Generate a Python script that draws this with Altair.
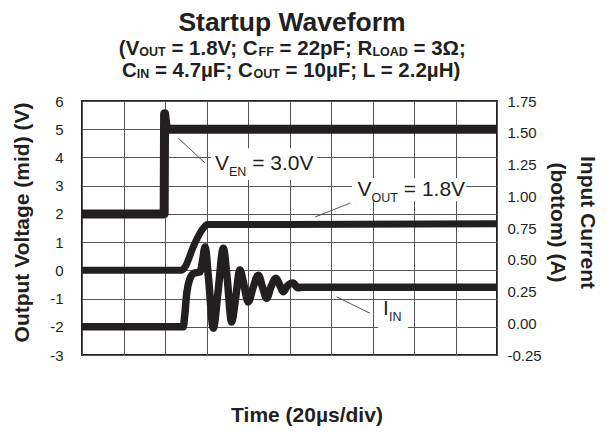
import altair as alt
import pandas as pd

# ---------------- data ----------------
# V_EN trace (offset on left axis, volts)
ven_t = [0, 39.6, 39.8, 40.6, 41.5, 200]
ven_v = [2.0, 2.0, 5.55, 5.05, 5.0, 5.0]

# V_OUT trace (mid)
vout_t = [0, 48.0, 49.5, 54.0, 58.0, 60.5, 70.0, 200]
vout_v = [0.0, 0.0, 0.1, 0.9, 1.45, 1.62, 1.62, 1.65]

# I_IN trace (bottom, drawn on left-axis units)
iin_t = [0, 48.8, 49.5, 50.5, 52.0, 54.0, 57.0, 58.0, 59.3, 61.0, 63.3, 65.5,
         68.1, 70.0, 72.1, 74.0, 76.1, 78.0, 80.1, 82.5, 85.0, 87.0, 89.0,
         91.0, 93.5, 95.2, 96.9, 99.0, 101.7, 104.0, 106.0, 200]
iin_v = [-2.0, -2.0, -1.6, -0.8, -0.3, -0.1, -0.05, 0.3, 0.83, -0.3, -2.05, -0.8,
         0.78, -0.3, -1.83, -1.0, 0.01, -0.5, -1.12, -0.6, -0.17, -0.6, -0.99,
         -0.6, -0.28, -0.5, -0.76, -0.55, -0.45, -0.62, -0.6, -0.6]

left_ticks = [-3, -2, -1, 0, 1, 2, 3, 4, 5, 6]
right_ticks = [-0.25, 0.0, 0.25, 0.5, 0.75, 1.0, 1.25, 1.5, 1.75]
time_grid = [0, 20, 40, 60, 80, 100, 120, 140, 160, 180, 200]

title_text = "Startup Waveform"
sub_line1 = [("(V", 0), ("OUT", 1), (" = 1.8V; C", 0), ("FF", 1), (" = 22pF; R", 0),
             ("LOAD", 1), (" = 3Ω;", 0)]
sub_line2 = [("C", 0), ("IN", 1), (" = 4.7µF; C", 0), ("OUT", 1),
             (" = 10µF; L = 2.2µH)", 0)]

# annotations: label anchor (t, v), leader line (t1, v1, t2, v2), white box (t1, t2, v1, v2)
ven_label = [("V", 0), ("EN", 1), (" = 3.0V", 0)]
ven_anchor = (64.1, 3.555)
ven_leader = (46.3, 4.69, 59.3, 3.80)
ven_box = (62.2, 113.3, 4.33, 3.20)

vout_label = [("V", 0), ("OUT", 1), (" = 1.8V", 0)]
vout_anchor = (132.8, 2.634)
vout_leader = (129.2, 2.38, 112.3, 1.89)
vout_box = (130.1, 185.1, 3.27, 2.45)

iin_label = [("I", 0), ("IN", 1)]
iin_anchor = (145.1, -1.583)
iin_leader = (138.8, -1.52, 122.7, -0.94)
iin_box = (142.7, 157.1, -1.06, -2.16)

# ---------------- styling helpers ----------------
FONT = "Liberation Sans"
INK = "#231f20"
W, H = 415, 254

BOLD_W = {'(': 333, ')': 333, 'V': 667, 'O': 778, 'U': 722, 'T': 611, ' ': 278,
          '=': 584, '1': 556, '.': 278, '8': 556, ';': 333, 'C': 722, 'F': 611,
          '2': 556, 'p': 611, 'R': 722, 'L': 611, 'A': 722, 'D': 722, '3': 556,
          'Ω': 768, 'I': 278, 'N': 722, '4': 556, '7': 556, 'µ': 611, 'H': 722,
          '0': 556}
REG_W = {'V': 667, 'E': 667, 'N': 722, ' ': 278, '=': 584, '3': 556, '.': 278,
         '0': 556, 'O': 778, 'U': 722, 'T': 611, '1': 556, '8': 556, 'I': 278}


def text_width(s, table, size):
    return sum(table.get(c, 556) for c in s) / 1000.0 * size


def layout(segs, main, sub, table):
    out, x = [], 0.0
    for txt, is_sub in segs:
        size = sub if is_sub else main
        lead = len(txt) - len(txt.lstrip(' '))
        x0 = x + lead * table[' '] / 1000.0 * size
        out.append((txt.strip(), is_sub, x0, size))
        x += text_width(txt, table, size)
    return out, x


one = pd.DataFrame({"a": [0]})
xs = alt.Scale(domain=[0, 200], nice=False, zero=False)
ys = alt.Scale(domain=[-3, 6], nice=False, zero=False)

x_axis = alt.Axis(values=time_grid, labels=False, ticks=False, domain=False, grid=True,
                  gridColor="#555555", gridWidth=1,
                  title="Time (20µs/div)", titleFont=FONT, titleFontSize=21,
                  titleFontWeight="bold", titleColor=INK, titleX=224.5, titleY=66,
                  titleAlign="center", titleBaseline="alphabetic")
y_axis = alt.Axis(values=left_ticks, grid=True, gridColor="#555555", gridWidth=1,
                  ticks=False, domain=False, labelPadding=19, labelFont=FONT,
                  labelFontSize=15, labelColor=INK, labelFlush=False, labelOverlap=False,
                  labelExpr="datum.value < 0 ? '-' + format(-datum.value, 'd') : format(datum.value, 'd')",
                  title="Output Voltage (mid) (V)", titleFont=FONT, titleFontSize=21,
                  titleFontWeight="bold", titleColor=INK, titleAngle=270,
                  titleX=-53.5, titleY=121, titleAlign="center", titleBaseline="alphabetic")

layers = []

# white label boxes
for (t1, t2, v1, v2) in [ven_box, vout_box, iin_box]:
    layers.append(
        alt.Chart(one).mark_rect(color="white", opacity=1).encode(
            x=alt.datum(t1, scale=xs, axis=x_axis), x2=alt.datum(t2),
            y=alt.datum(v1, scale=ys, axis=y_axis), y2=alt.datum(v2),
        )
    )

# leader lines
for (t1, v1, t2, v2) in [ven_leader, vout_leader, iin_leader]:
    layers.append(
        alt.Chart(one).mark_rule(color="#444444", strokeWidth=0.9).encode(
            x=alt.datum(t1, scale=xs, axis=x_axis), x2=alt.datum(t2),
            y=alt.datum(v1, scale=ys, axis=y_axis), y2=alt.datum(v2),
        )
    )

# traces
def trace(ts, vs, interp, sw):
    df = pd.DataFrame({"t": ts, "v": vs})
    return alt.Chart(df).mark_line(color=INK, strokeWidth=sw, interpolate=interp,
                                   strokeJoin="round", strokeCap="butt").encode(
        x=alt.X("t:Q", scale=xs, axis=x_axis),
        y=alt.Y("v:Q", scale=ys, axis=y_axis),
    )

layers.append(trace(ven_t, ven_v, "linear", 9))
layers.append(trace(vout_t, vout_v, "monotone", 7))
layers.append(trace(iin_t, iin_v, "monotone", 7.5))

# annotation labels with subscripts
for segs, (ta, va) in [(ven_label, ven_anchor), (vout_label, vout_anchor), (iin_label, iin_anchor)]:
    parts, _ = layout(segs, 21, 12.5, REG_W)
    for txt, is_sub, x0, size in parts:
        layers.append(
            alt.Chart(one).mark_text(font=FONT, fontSize=size, color=INK, align="left",
                                     baseline="alphabetic", dx=x0, dy=6 if is_sub else 0).encode(
                x=alt.datum(ta, scale=xs, axis=x_axis), y=alt.datum(va, scale=ys, axis=y_axis),
                text=alt.value(txt)
            )
        )

# chart title and subtitle (pixel positions relative to the plot area)
layers.append(
    alt.Chart(one).mark_text(font=FONT, fontSize=26.5, fontWeight="bold", color=INK,
                             align="center", baseline="alphabetic").encode(
        x=alt.value(210), y=alt.value(-70), text=alt.value(title_text)
    )
)
for segs, base_y in [(sub_line1, -46.5), (sub_line2, -24.2)]:
    parts, total = layout(segs, 20.5, 12.5, BOLD_W)
    start = 210 - total / 2.0
    for txt, is_sub, x0, size in parts:
        layers.append(
            alt.Chart(one).mark_text(font=FONT, fontSize=size, fontWeight="bold", color=INK,
                                     align="left", baseline="alphabetic").encode(
                x=alt.value(start + x0), y=alt.value(base_y + (1.5 if is_sub else 0)),
                text=alt.value(txt)
            )
        )

left = alt.layer(*layers)

right_axis = alt.Axis(orient="right", values=right_ticks, grid=False, ticks=False,
                      domain=False, labelPadding=10, labelFont=FONT, labelFontSize=15,
                      labelColor=INK, labelFlush=False, labelOverlap=False,
                      labelExpr="datum.value < 0 ? '-' + format(-datum.value, '.2f') : format(datum.value, '.2f')",
                      title=["Input Current", "(bottom) (A)"], titleFont=FONT,
                      titleFontSize=21, titleFontWeight="bold", titleColor=INK,
                      titleAngle=90, titleX=83, titleY=121, titleAlign="center",
                      titleBaseline="alphabetic", titleLineHeight=30)
right = alt.Chart(one).mark_point(opacity=0).encode(
    y=alt.Y("a:Q", scale=alt.Scale(domain=[-0.25, 1.75], nice=False, zero=False),
            axis=right_axis)
)

chart = alt.layer(left, right).resolve_scale(y="independent").properties(
    width=W, height=H, autosize="none",
    padding={"left": 74, "top": 93, "right": 105, "bottom": 71},
).configure_view(stroke=INK, strokeWidth=2)

chart.save("out.html", embed_options={"renderer": "svg", "actions": False})
